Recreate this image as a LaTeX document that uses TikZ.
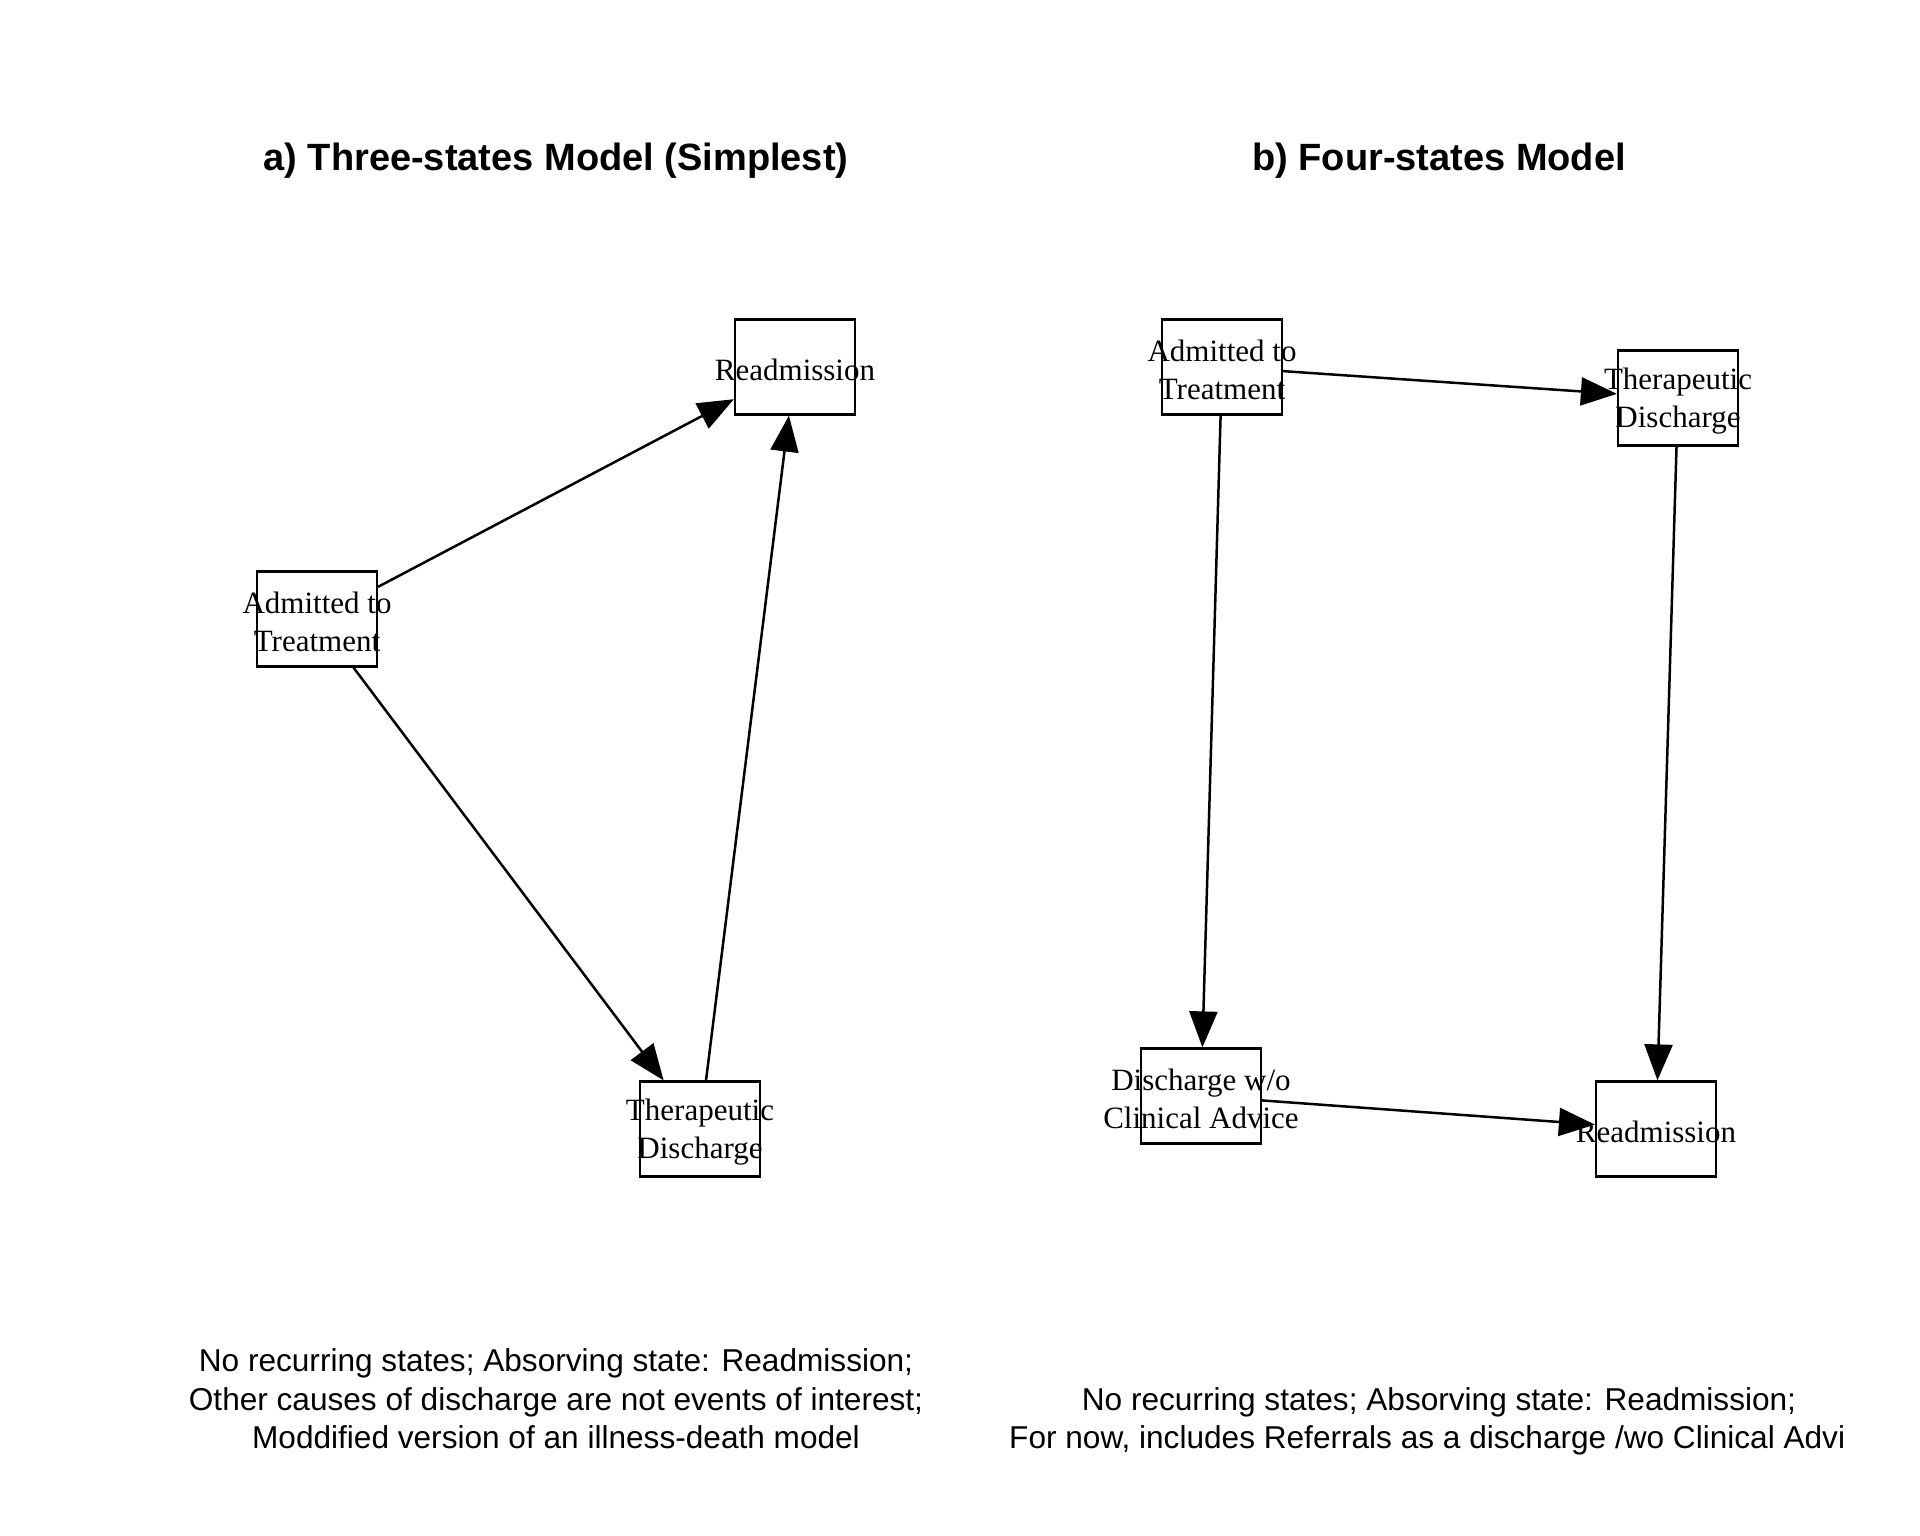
\documentclass[tikz,border=0pt]{standalone}
\usepackage{fontspec}
\setmainfont{Liberation Serif}
\setsansfont{Liberation Sans}
\usetikzlibrary{arrows.meta}
\newcommand\boxtxt[1]{\makebox[0pt]{\raisebox{-3pt}[\height][\depth]{#1}}}
\begin{document}
\begin{tikzpicture}[x=1pt,y=-1pt,
  state/.style={draw, line width=2.2pt, minimum width=120pt, minimum height=95pt, inner sep=0pt, align=center, font=\fontsize{31}{38}\selectfont},
  trans/.style={line width=2.5pt, -{Triangle[length=36pt,width=28pt]}},
  ttl/.style={font=\sffamily\bfseries\fontsize{38}{46}\selectfont},
  note/.style={font=\sffamily\fontsize{31.6}{38.6}\selectfont, align=center, inner sep=0pt}]
\useasboundingbox[fill=white] (0,0) rectangle (1920,1536);
% titles
\node[ttl] (ta) at (556,161) {a) Three-states Model (Simplest)};
\node[ttl] (tb) at (1439,161) {b) Four-states Model};
% panel a
\node[state] (aread) at (795,367) {\boxtxt{Readmission}};
\node[state] (aadm) at (317,619) {\boxtxt{Admitted to}\\\boxtxt{Treatment}};
\node[state] (ather) at (700,1129) {\boxtxt{Therapeutic}\\\boxtxt{Discharge}};
\draw[trans] (aadm) -- (aread);
\draw[trans] (aadm) -- (ather);
\draw[trans] (ather) -- (aread);
% panel b
\node[state] (badm) at (1222,367) {\boxtxt{Admitted to}\\\boxtxt{Treatment}};
\node[state] (bther) at (1678,398) {\boxtxt{Therapeutic}\\\boxtxt{Discharge}};
\node[state] (bdis) at (1201,1096) {\boxtxt{Discharge w/o}\\\boxtxt{Clinical Advice}};
\node[state] (bread) at (1656,1129) {\boxtxt{Readmission}};
\draw[trans] (badm) -- (bther);
\draw[trans] (badm) -- (bdis);
\draw[trans] (bther) -- (bread);
\draw[trans] (bdis) -- (bread);
% notes
\node[note] (na) at (556,1399) {No recurring states; Absorving state: Readmission;\\Other causes of discharge are not events of interest;\\Moddified version of an illness-death model};
\node[note] (nb1) at (1439,1402) {No recurring states; Absorving state: Readmission;};
\node[note, anchor=west] (nb2) at (1009,1440) {For now, includes Referrals as a discharge /wo Clinical Advi};
\end{tikzpicture}
\end{document}
